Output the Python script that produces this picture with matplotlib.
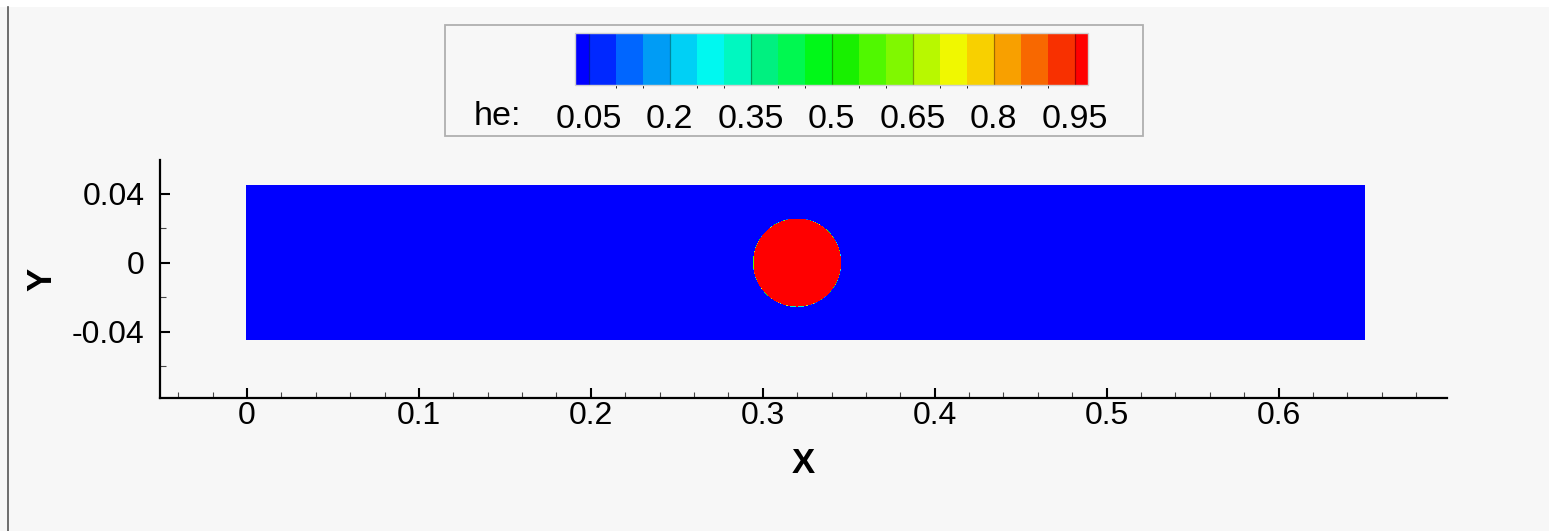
import numpy as np
import matplotlib.pyplot as plt
from matplotlib.colors import ListedColormap, BoundaryNorm
from matplotlib.patches import Rectangle
from matplotlib.lines import Line2D
from matplotlib.ticker import MultipleLocator

plt.rcParams['font.family'] = ['Liberation Sans', 'DejaVu Sans']

# domain and droplet
domain_x = [0.0, 0.65]
domain_y = [-0.0445, 0.0445]
circle_center = [0.32, 0.0]
circle_radius = 0.025
he_inside = 1.0
he_outside = 0.0

levels = np.round(np.arange(0, 1.0001, 0.05), 2)
band_colors = ['#0000ff', '#0028ff', '#0066ff', '#009cf5', '#00d0f5',
               '#00f8f0', '#00f8c0', '#00f080', '#00f850', '#00f818',
               '#18f000', '#50f800', '#80f800', '#b8f800', '#f0f800',
               '#f8d000', '#f8a000', '#f86800', '#f83000', '#ff0000']
cbar_ticks = [0.05, 0.2, 0.35, 0.5, 0.65, 0.8, 0.95]
cbar_labels = ['0.05', '0.2', '0.35', '0.5', '0.65', '0.8', '0.95']
xticks = [0, 0.1, 0.2, 0.3, 0.4, 0.5, 0.6]
xlabels = ['0', '0.1', '0.2', '0.3', '0.4', '0.5', '0.6']
yticks = [-0.04, 0, 0.04]
ylabels = ['-0.04', '0', '0.04']

bg = '#f7f7f7'
fig = plt.figure(figsize=(15.49, 5.31), dpi=100, facecolor=bg)
# white strip on top and frame line on the left
fig.add_artist(Rectangle((0, 1 - 7 / 531), 1, 7 / 531, transform=fig.transFigure,
                         facecolor='white', edgecolor='none', zorder=-2))
fig.add_artist(Line2D([8 / 1549, 8 / 1549], [0, 1 - 7 / 531], transform=fig.transFigure,
                      color='#555555', lw=1.2))
# legend box (behind the colorbar)
fig.add_artist(Rectangle((445 / 1549, 1 - 136 / 531), 698 / 1549, 111 / 531,
                         transform=fig.transFigure, facecolor=bg,
                         edgecolor='#b0b0b0', lw=1.3, zorder=-1))

ax = fig.add_axes([160 / 1549, 1 - 398 / 531, 1287 / 1549, 238 / 531])
ax.set_facecolor(bg)

x = np.linspace(domain_x[0], domain_x[1], 2601)
y = np.linspace(domain_y[0], domain_y[1], 357)
X, Y = np.meshgrid(x, y)
inside = (X - circle_center[0]) ** 2 + (Y - circle_center[1]) ** 2 <= circle_radius ** 2
he = np.where(inside, he_inside, he_outside)

cmap = ListedColormap(band_colors)
norm = BoundaryNorm(levels, cmap.N)
cf = ax.contourf(X, Y, he, levels=levels, cmap=cmap, norm=norm)
# close the seams between bands
cf.set_edgecolor('face')
cf.set_linewidth(0.6)

ax.set_xlim(-0.0506, 0.698)
ax.set_ylim(-0.0785, 0.0595)
for s in ['top', 'right']:
    ax.spines[s].set_visible(False)
for s in ['left', 'bottom']:
    ax.spines[s].set_linewidth(1.6)
ax.set_xticks(xticks, xlabels)
ax.set_yticks(yticks, ylabels)
ax.xaxis.set_minor_locator(MultipleLocator(0.02))
ax.yaxis.set_minor_locator(MultipleLocator(0.02))
ax.tick_params(which='major', direction='in', length=7.5, width=1.5, labelsize=23)
ax.tick_params(axis='x', which='major', pad=2)
ax.tick_params(axis='y', which='major', pad=11)
ax.tick_params(which='minor', direction='in', length=4, width=0.8, color='#444444')
ax.set_xlabel('X', fontsize=25, fontweight='bold', labelpad=12)
ax.set_ylabel('Y', fontsize=25, fontweight='bold', labelpad=10)

cax = fig.add_axes([575 / 1549, 1 - 85 / 531, 513 / 1549, 52 / 531])
cb = fig.colorbar(cf, cax=cax, orientation='horizontal')
cax.set_xlim(0.025, 0.975)
cb.set_ticks(cbar_ticks, labels=cbar_labels)
cb.outline.set_edgecolor('#d0d0d0')
cb.outline.set_linewidth(1.0)
cax.tick_params(length=0, labelsize=24.5, pad=14)
for t in cbar_ticks:
    cax.axvline(t, color='#000000', alpha=0.35, lw=0.9)
fig.text(497 / 1549, 1 - 116 / 531, 'he:', fontsize=24.5, ha='center', va='center')

fig.savefig('out.png', dpi=100, facecolor=bg)
